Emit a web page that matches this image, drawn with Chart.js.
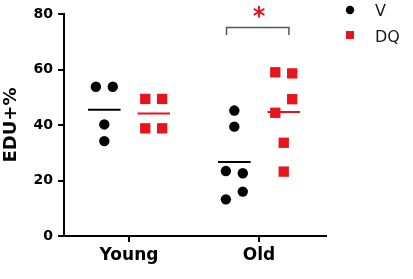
<!DOCTYPE html>
<html lang="en">
<head>
    <meta charset="UTF-8">
    <title>EDU+%</title>
    <script src="https://cdn.jsdelivr.net/npm/chart.js"></script>
    <style>
        html, body { margin: 0; padding: 0; background: #fff; }
    </style>
</head>
<body>
    <div style="width: 413px; height: 279px;">
        <canvas id="grafico1"></canvas>
    </div>

    <script>
        // data
        const groups = ['Young', 'Old'];
        const vYoung = [53.8, 53.8, 40.2, 34.2];
        const dqYoung = [49.4, 49.4, 38.8, 38.8];
        const vOld = [45.2, 39.4, 23.4, 22.6, 16.0, 13.2];
        const dqOld = [59.0, 58.6, 49.3, 44.4, 33.6, 23.2];
        // column of each dot inside its cluster (-1 left, 0 middle, 1 right)
        const vYoungCol = [-1, 1, 0, 0];
        const dqYoungCol = [-1, 1, -1, 1];
        const vOldCol = [0, 0, -1, 1, 1, -1];
        const dqOldCol = [-1, 1, 1, -1, 0, 0];
        const yTicks = [0, 20, 40, 60, 80];
        const bracketTop = 75.1;
        const bracketLow = 72.4;

        const RED = '#e8141c';
        const shift = 0.19, step = 0.065, half = 0.125;

        function pts(vals, cols, g, side) {
            return vals.map((v, i) => ({ x: g + side * shift + cols[i] * step, y: v }));
        }
        function meanLine(vals, g, side) {
            const m = vals.reduce((a, b) => a + b, 0) / vals.length;
            const c = g + side * shift;
            return [{ x: c - half, y: m }, { x: c + half, y: m }];
        }
        function lineSet(data, color, w) {
            return { data: data, showLine: true, borderColor: color, borderWidth: w, pointRadius: 0, fill: false };
        }

        const ctx = document.getElementById('grafico1');

        const legendPlugin = {
            id: 'miniLegend',
            afterDraw(chart) {
                const c = chart.ctx, r = chart.chartArea.right;
                c.save();
                c.fillStyle = '#000';
                c.beginPath();
                c.arc(r + 24, 10, 4.2, 0, Math.PI * 2);
                c.fill();
                c.fillStyle = RED;
                c.fillRect(r + 20, 31, 8, 8);
                c.fillStyle = '#1a1a1a';
                c.font = '16px "DejaVu Sans"';
                c.textBaseline = 'alphabetic';
                c.fillText('V', r + 49, 16);
                c.fillText('DQ', r + 49, 41.5);
                // significance star over the bracket
                const xs = chart.scales.x, ys = chart.scales.y;
                c.fillStyle = RED;
                c.font = 'bold 24px "DejaVu Sans"';
                c.textAlign = 'center';
                c.fillText('*', xs.getPixelForValue(2), ys.getPixelForValue(bracketTop) - 4);
                c.restore();
            }
        };

        let grafico1 = new Chart(ctx, {
            type: 'scatter',
            data: {
                datasets: [
                    { data: pts(vYoung, vYoungCol, 1, -1).concat(pts(vOld, vOldCol, 2, -1)), pointStyle: 'circle', pointRadius: 5.2, backgroundColor: '#000', borderWidth: 0 },
                    { data: pts(dqYoung, dqYoungCol, 1, 1).concat(pts(dqOld, dqOldCol, 2, 1)), pointStyle: 'rect', pointRadius: 7.3, backgroundColor: RED, borderWidth: 0 },
                    lineSet(meanLine(vYoung, 1, -1), '#000', 2),
                    lineSet(meanLine(vOld, 2, -1), '#000', 2),
                    lineSet(meanLine(dqYoung, 1, 1), RED, 2),
                    lineSet(meanLine(dqOld, 2, 1), RED, 2),
                    lineSet([
                        { x: 2 - 0.25, y: bracketLow }, { x: 2 - 0.25, y: bracketTop },
                        { x: 2 + 0.23, y: bracketTop }, { x: 2 + 0.23, y: bracketLow }
                    ], '#555', 1.5)
                ]
            },
            options: {
                animation: false,
                responsive: true,
                maintainAspectRatio: false,
                layout: { padding: { top: 14, right: 87, left: 0, bottom: 0 } },
                plugins: { legend: { display: false }, tooltip: { enabled: false } },
                scales: {
                    x: {
                        type: 'linear',
                        min: 0.5,
                        max: 2.515,
                        afterBuildTicks: (axis) => { axis.ticks = groups.map((g, i) => ({ value: i + 1 })); },
                        afterFit: (axis) => { axis.height = 43; },
                        ticks: {
                            callback: (v) => groups[v - 1],
                            color: '#000',
                            font: { family: 'DejaVu Sans', size: 17, weight: 'bold' },
                            padding: 3,
                            maxRotation: 0
                        },
                        grid: { drawOnChartArea: false, drawTicks: true, tickLength: 6, color: '#000', lineWidth: 2 },
                        border: { display: true, color: '#000', width: 2 }
                    },
                    y: {
                        min: 0,
                        max: 80,
                        afterBuildTicks: (axis) => { axis.ticks = yTicks.map(v => ({ value: v })); },
                        afterFit: (axis) => { axis.width = 64; },
                        ticks: {
                            color: '#000',
                            font: { family: 'DejaVu Sans', size: 14, weight: 'bold' },
                            padding: 5
                        },
                        title: {
                            display: true,
                            text: 'EDU+%',
                            color: '#000',
                            font: { family: 'DejaVu Sans', size: 18, weight: 'bold' },
                            padding: 1
                        },
                        grid: { drawOnChartArea: false, drawTicks: true, tickLength: 6, color: '#000', lineWidth: 2 },
                        border: { display: true, color: '#000', width: 2 }
                    }
                }
            },
            plugins: [legendPlugin]
        });
    </script>
</body>
</html>
